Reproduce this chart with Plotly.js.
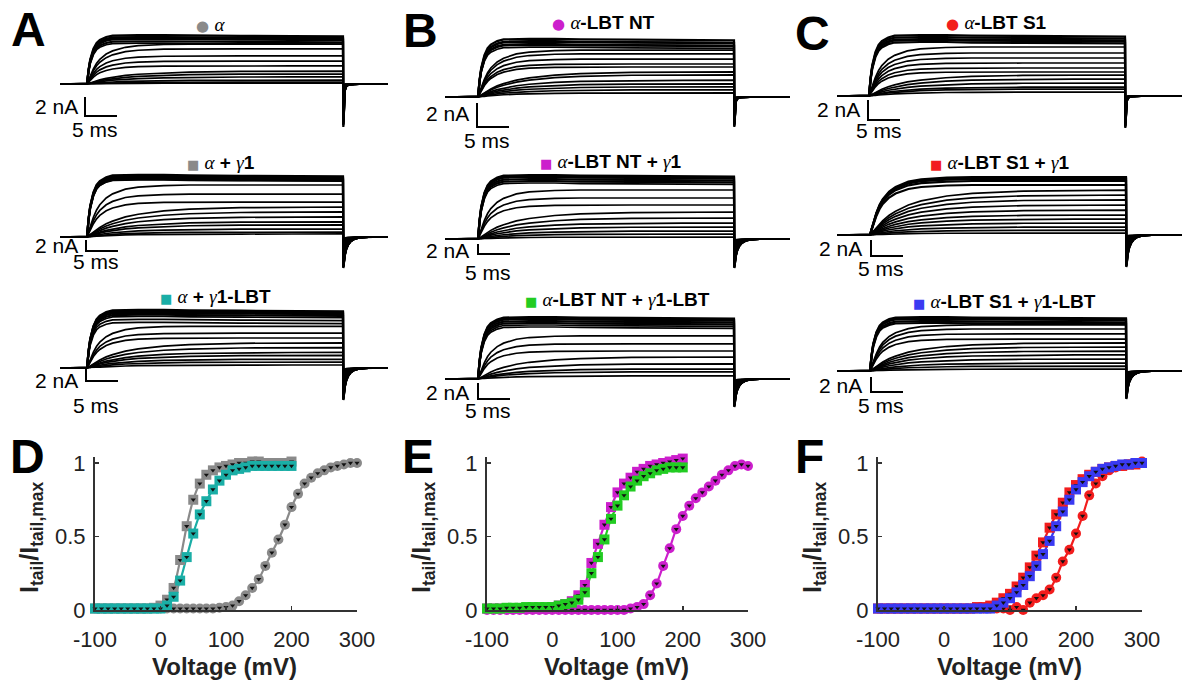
<!DOCTYPE html>
<html><head><meta charset="utf-8">
<script src="https://cdn.plot.ly/plotly-3.0.1.min.js"></script>
<style>html,body{margin:0;padding:0;background:#fff}#chart{width:1182px;height:683px}</style>
</head><body><div id="chart"></div><script>
// ---------------- DATA ----------------
// G-V voltages (mV)
const VOLT_FULL=[-100,-90,-80,-70,-60,-50,-40,-30,-20,-10,0,10,20,30,40,50,60,70,80,90,100,110,120,130,140,150,160,170,180,190,200,210,220,230,240,250,260,270,280,290,300];
const VOLT_HALF=[-100,-90,-80,-70,-60,-50,-40,-30,-20,-10,0,10,20,30,40,50,60,70,80,90,100,110,120,130,140,150,160,170,180,190,200];
const VOLT_TICKS=[-100,0,100,200,300];
const VOLT_TICKTEXT=['-100','0','100','200','300'];
// D
const GV_ALPHA=[0.01,0.01,0.01,0.01,0.01,0.01,0.01,0.01,0.01,0.01,0.01,0.01,0.01,0.01,0.01,0.01,0.01,0.01,0.01,0.015,0.02,0.03,0.06,0.10,0.15,0.21,0.30,0.39,0.48,0.58,0.70,0.79,0.86,0.90,0.93,0.95,0.97,0.98,0.99,1.0,1.0];
const GV_ALPHA_G1=[0.01,0.01,0.01,0.01,0.01,0.01,0.01,0.01,0.01,0.015,0.03,0.07,0.15,0.34,0.57,0.75,0.86,0.92,0.95,0.97,0.98,0.99,1.0,1.0,1.01,1.01,1.0,1.0,1.0,1.0,1.01];
const GV_ALPHA_G1LBT=[0.01,0.01,0.01,0.01,0.01,0.01,0.01,0.01,0.01,0.01,0.01,0.03,0.09,0.20,0.36,0.52,0.65,0.74,0.82,0.88,0.92,0.95,0.96,0.97,0.98,0.98,0.98,0.98,0.98,0.98,0.98];
// E
const GV_NT=[0.0,0.0,0.0,0.0,0.0,0.0,0.0,0.0,0.0,0.0,0.0,0.0,0.0,0.0,0.0,0.0,0.0,0.0,0.0,0.0,0.0,0.0,0.01,0.02,0.04,0.10,0.18,0.30,0.42,0.55,0.64,0.71,0.76,0.80,0.84,0.88,0.92,0.95,0.98,0.99,0.98];
const GV_NT_G1=[0.01,0.01,0.01,0.01,0.01,0.01,0.01,0.01,0.01,0.01,0.02,0.03,0.04,0.06,0.10,0.17,0.32,0.45,0.58,0.70,0.80,0.86,0.90,0.94,0.96,0.98,0.99,1.0,1.01,1.02,1.03];
const GV_NT_G1LBT=[0.01,0.01,0.01,0.015,0.015,0.015,0.02,0.02,0.02,0.02,0.02,0.03,0.04,0.05,0.07,0.12,0.25,0.36,0.48,0.62,0.71,0.78,0.84,0.88,0.91,0.93,0.95,0.96,0.97,0.97,0.97];
// F
const GV_S1=[0.01,0.01,0.01,0.01,0.01,0.01,0.01,0.01,0.01,0.01,0.01,0.01,0.01,0.01,0.01,0.01,0.01,0.01,0.01,0.01,0.0,0.02,0.0,0.05,0.08,0.10,0.14,0.22,0.33,0.41,0.52,0.64,0.78,0.86,0.91,0.95,0.97,0.98,0.99,1.0,1.01];
const GV_S1_G1=[0.01,0.01,0.01,0.01,0.01,0.01,0.01,0.01,0.01,0.01,0.01,0.01,0.01,0.01,0.01,0.02,0.02,0.03,0.05,0.08,0.11,0.16,0.22,0.29,0.37,0.46,0.56,0.65,0.73,0.80,0.85,0.89,0.92,0.94,0.96,0.97,0.98,0.98,0.99,0.99,1.0];
const GV_S1_G1LBT=[0.01,0.01,0.01,0.01,0.01,0.01,0.01,0.01,0.01,0.01,0.01,0.01,0.01,0.01,0.01,0.01,0.01,0.01,0.03,0.05,0.08,0.12,0.17,0.23,0.30,0.38,0.47,0.57,0.67,0.75,0.82,0.87,0.91,0.94,0.96,0.97,0.98,0.99,0.99,1.0,1.0];

// Current traces: plateau amplitudes (nA) per trace, and kinetic class per trace
const AMP_A1=[5.15,4.95,4.85,4.75,4.5,4.3,4.2,3.7,2.95,2.4,1.9,1.35,1.05,0.75,0.4,0.2,0.1];
const KIN_A1='ffffffmmmmmssssss';
const AMP_B1=[4.85,4.65,4.6,4.4,4.35,4.15,3.9,3.6,3.15,2.75,2.5,2.1,1.85,1.4,1.1,0.85,0.6,0.35];
const KIN_B1='ffffffmmmmmsssssss';
const AMP_C1=[6.1,5.9,5.7,5.6,5.4,4.9,4.3,3.8,3.3,2.8,2.4,2.1,1.7,1.3,0.9,0.7,0.4];
const KIN_C1='fffffmmmmmmssssss';
const AMP_A2=[11.3,11.1,10.9,10.7,10.5,10.4,9.45,7.8,6.35,5.45,4.55,3.65,2.75,2.2,1.45,0.9,0.55];
const KIN_A2='ffffffmmmssssssss';
const AMP_A3=[9.7,9.55,9.4,9.2,8.9,8.6,8.1,7.6,6.95,5.8,5.0,4.2,3.4,2.6,2.1,1.45,1,0.5];
const KIN_A3='ffffffffmmmsssssss';
const AMP_B2=[12.8,12.6,12.4,12,11.6,11.2,9.8,8.2,6.8,5.4,4.2,3.2,2.4,1.6,1.0,0.4];
const KIN_B2='ffffffmmmsssssss';
const AMP_B3=[7.75,7.6,7.5,7.25,7,6.75,6.5,5.4,4.4,3.5,2.75,1.9,1.25,0.9,0.4];
const KIN_B3='fffffffmmmsssss';
const AMP_C2=[7.25,7.1,7,6.75,6.25,5.6,5,4.4,3.75,3.1,2.5,2,1.5,1,0.6,0.25];
const KIN_C2='mmmmmsssssssssss';
const AMP_C3=[7.2,7.05,6.95,6.65,6.4,6.15,5.6,4.95,4.25,3.75,3.2,2.65,2.15,1.6,1.05,0.65,0.25];
const KIN_C3='fffffmmmmssssssss';
// activation time course (fraction of plateau)
const ACT_T=[0,0.25,0.5,1,1.5,2,3,4,6,8,12,16,24,32,40];
const ACT_FAST=[0,0.3,0.5,0.72,0.84,0.9,0.96,0.99,1,1,1,0.99,0.985,0.98,0.975];
const ACT_MED=[0,0.1,0.2,0.38,0.52,0.62,0.75,0.83,0.92,0.96,0.99,1,1,1,1];
const ACT_SLOW=[0,0.04,0.08,0.17,0.25,0.32,0.44,0.53,0.67,0.76,0.87,0.93,0.98,0.995,1];
// tail current time course after pulse end (ms) and relative size
const TAIL_T=[0.05,0.15,0.3,0.5,0.8,1.2,1.8,2.5,4];
const TAIL_BRIEF=[1,0.4,0.15,0.06,0.02,0.01,0,0,0];
const TAIL_DECAY=[1,0.8,0.58,0.4,0.25,0.14,0.06,0.02,0];
const PULSE_MS=40, SCALE_NA=2, SCALE_MS=5;

// ---------------- LAYOUT GEOMETRY ----------------
const W=1182,H=683,PXMS=6.4;
const FONT='Liberation Sans, Arial, sans-serif';
const PANELS=[
 {amps:AMP_A1,kin:KIN_A1,t0x:87, base:84, pxna:9.5,x0:60, x1:388, tail:43,tshape:'b',sb:{x:85, y1:116},t2:{x:80, y:106},t5:{x:95, y:129}},
 {amps:AMP_B1,kin:KIN_B1,t0x:478,base:97, pxna:12, x0:445,x1:790, tail:30,tshape:'b',sb:{x:477,y1:127},t2:{x:471,y:113},t5:{x:487,y:140}},
 {amps:AMP_C1,kin:KIN_C1,t0x:869,base:96, pxna:10, x0:837,x1:1182,tail:32,tshape:'b',sb:{x:868,y1:120},t2:{x:862,y:109},t5:{x:879,y:130}},
 {amps:AMP_A2,kin:KIN_A2,t0x:87, base:237,pxna:5.5,x0:60, x1:388, tail:31,tshape:'d',sb:{x:86, y1:251},t2:{x:80, y:245},t5:{x:96, y:262}},
 {amps:AMP_A3,kin:KIN_A3,t0x:87, base:368,pxna:6,  x0:60, x1:388, tail:32,tshape:'d',sb:{x:86, y1:381},t2:{x:80, y:380},t5:{x:96, y:405}},
 {amps:AMP_B2,kin:KIN_B2,t0x:478,base:239,pxna:5,  x0:445,x1:790, tail:29,tshape:'d',sb:{x:478,y1:254},t2:{x:471,y:250},t5:{x:488,y:272}},
 {amps:AMP_B3,kin:KIN_B3,t0x:478,base:379,pxna:8,  x0:445,x1:790, tail:28,tshape:'d',sb:{x:478,y1:399},t2:{x:471,y:392},t5:{x:488,y:410}},
 {amps:AMP_C2,kin:KIN_C2,t0x:870,base:235,pxna:8,  x0:837,x1:1182,tail:32,tshape:'d',sb:{x:871,y1:256},t2:{x:864,y:249},t5:{x:881,y:268}},
 {amps:AMP_C3,kin:KIN_C3,t0x:870,base:371,pxna:7.5,x0:837,x1:1182,tail:28,tshape:'d',sb:{x:871,y1:392},t2:{x:864,y:385},t5:{x:881,y:405}}
];
const fx=px=>px/W, fy=py=>1-py/H;
const data=[]; const layout={width:W,height:H,margin:{l:0,r:0,t:0,b:0},showlegend:false,
  paper_bgcolor:'#fff',plot_bgcolor:'rgba(0,0,0,0)',font:{family:FONT,color:'#000'},annotations:[]};
const ann=(x,y,text,o)=>layout.annotations.push(Object.assign({xref:'paper',yref:'paper',x:fx(x),y:fy(y),text,showarrow:false,xanchor:'center',yanchor:'middle',font:{family:FONT,size:21,color:'#000'}},o||{}));

PANELS.forEach((p,i)=>{
  const k=i+1, xs='x'+k, ys='y'+k;
  const tmin=(p.x0-p.t0x)/PXMS, tmax=(p.x1-p.t0x)/PXMS;
  const yt=p.base-72, yb=p.base+48;
  layout['xaxis'+k]={domain:[fx(p.x0),fx(p.x1)],range:[tmin,tmax],visible:false,fixedrange:true,anchor:ys};
  layout['yaxis'+k]={domain:[fy(yb),fy(yt)],range:[(p.base-yb)/p.pxna,(p.base-yt)/p.pxna],visible:false,fixedrange:true,anchor:xs};
  const maxA=Math.max(...p.amps), tailNA=p.tail/p.pxna;
  const tail=p.tshape==='b'?TAIL_BRIEF:TAIL_DECAY;
  p.amps.forEach((a,j)=>{
    const c=p.kin[j]; const sh=c==='f'?ACT_FAST:(c==='m'?ACT_MED:ACT_SLOW);
    const x=[tmin].concat(ACT_T,TAIL_T.map(t=>PULSE_MS+t),[tmax]);
    const y=[0].concat(sh.map(f=>a*f),tail.map(f=>-tailNA*(a/maxA)*f),[0]);
    data.push({type:'scatter',mode:'lines',x,y,xaxis:xs,yaxis:ys,line:{color:'#000',width:j<5?2.2:1.7},hoverinfo:'skip',cliponaxis:false});
  });
  // scale bar 2 nA / 5 ms
  const tc=(p.sb.x-p.t0x)/PXMS, ic=(p.base-p.sb.y1)/p.pxna;
  data.push({type:'scatter',mode:'lines',x:[tc,tc,tc+SCALE_MS],y:[ic+SCALE_NA,ic,ic],xaxis:xs,yaxis:ys,line:{color:'#000',width:2},hoverinfo:'skip',cliponaxis:false});
  ann(p.t2.x,p.t2.y,SCALE_NA+' nA',{xanchor:'right'});
  ann(p.t5.x,p.t5.y,SCALE_MS+' ms');
});

// G-V panels
const GV=[
 {x0:95, x1:357, series:[
   {v:VOLT_FULL,g:GV_ALPHA,c:'#8a8a8a',s:'circle'},
   {v:VOLT_HALF,g:GV_ALPHA_G1,c:'#8a8a8a',s:'square'},
   {v:VOLT_HALF,g:GV_ALPHA_G1LBT,c:'#1aaea6',s:'square'}]},
 {x0:487,x1:748, series:[
   {v:VOLT_FULL,g:GV_NT,c:'#cc1fcc',s:'circle'},
   {v:VOLT_HALF,g:GV_NT_G1,c:'#cc1fcc',s:'square'},
   {v:VOLT_HALF,g:GV_NT_G1LBT,c:'#22cc22',s:'square'}]},
 {x0:878,x1:1142,series:[
   {v:VOLT_FULL,g:GV_S1,c:'#f21d1d',s:'circle'},
   {v:VOLT_FULL,g:GV_S1_G1,c:'#f21d1d',s:'square'},
   {v:VOLT_FULL,g:GV_S1_G1LBT,c:'#3a3af2',s:'square'}]}
];
const Y0PX=610, Y1PX=463; // pixel rows of 0 and 1
GV.forEach((p,i)=>{
  const k=10+i, xs='x'+k, ys='y'+k;
  const ytop=Y0PX-(Y0PX-Y1PX)*1.04;
  layout['xaxis'+k]={domain:[fx(p.x0),fx(p.x1)],range:[-100,300],anchor:ys,showgrid:false,zeroline:false,
    showline:true,linecolor:'#333',linewidth:2,ticks:'inside',ticklen:4,tickcolor:'#333',tickwidth:1.5,
    tickvals:VOLT_TICKS,ticktext:VOLT_TICKTEXT,ticklabelstandoff:9,tickfont:{family:FONT,size:22,color:'#222'},fixedrange:true};
  layout['yaxis'+k]={domain:[fy(Y0PX),fy(ytop)],range:[0,1.04],anchor:xs,showgrid:false,zeroline:false,
    showline:true,linecolor:'#333',linewidth:2,ticks:'inside',ticklen:4,tickcolor:'#333',tickwidth:1.5,
    tickvals:[0,0.5,1],ticktext:['0','0.5','1'],ticklabelstandoff:3,tickfont:{family:FONT,size:22,color:'#222'},fixedrange:true};
  p.series.forEach(s=>{
    data.push({type:'scatter',mode:'lines',x:s.v,y:s.g,xaxis:xs,yaxis:ys,line:{color:s.c,width:2.2,shape:'spline',smoothing:0.8},hoverinfo:'skip',cliponaxis:false});
  });
  p.series.forEach(s=>{
    data.push({type:'scatter',mode:'markers',x:s.v,y:s.g,xaxis:xs,yaxis:ys,marker:{color:s.c,size:10,symbol:s.s,line:{width:0}},hoverinfo:'skip',cliponaxis:false});
    data.push({type:'scatter',mode:'markers',x:s.v,y:s.g,xaxis:xs,yaxis:ys,marker:{color:'#111',size:4.5,symbol:'triangle-down',line:{width:0}},hoverinfo:'skip',cliponaxis:false});
  });
  const cx=(p.x0+p.x1)/2;
  ann(cx-1,666,'<b>Voltage (mV)</b>',{font:{family:FONT,size:24,color:'#222'}});
  ann(p.x0-64,537,'<b>I<sub>tail</sub>/I<sub>tail,max</sub></b>',{textangle:-90,font:{family:FONT,size:25,color:'#222'}});
});

// panel letters
[['A',28,29],['B',420,31],['C',812,33],['D',27,456],['E',418,456],['F',810,456]].forEach(l=>ann(l[1],l[2],'<b>'+l[0]+'</b>',{font:{family:FONT,size:48,color:'#000'}}));

// condition labels
const GR=t=>'<span style="font-family:Liberation Serif, serif"><i>'+t+'</i></span>';
const DOT=c=>'<span style="color:'+c+';font-family:DejaVu Sans;font-size:15px">●</span> ';
const SQ=c=>'<span style="color:'+c+';font-family:DejaVu Sans;font-size:13px">■</span> ';
const LF={family:FONT,size:19,color:'#000'};
ann(210,24,DOT('#8a8a8a')+GR('α'),{font:LF});
ann(221,162,SQ('#8a8a8a')+GR('α')+' <b>+</b> '+GR('γ')+'<b>1</b>',{font:LF});
ann(215,297,SQ('#1aaea6')+GR('α')+' <b>+</b> '+GR('γ')+'<b>1-LBT</b>',{font:LF});
ann(603,23,DOT('#cc1fcc')+GR('α')+'<b>-LBT NT</b>',{font:LF});
ann(611,161,SQ('#cc1fcc')+GR('α')+'<b>-LBT NT + </b>'+GR('γ')+'<b>1</b>',{font:LF});
ann(617,299,SQ('#22cc22')+GR('α')+'<b>-LBT NT + </b>'+GR('γ')+'<b>1-LBT</b>',{font:LF});
ann(996,23,DOT('#f21d1d')+GR('α')+'<b>-LBT S1</b>',{font:LF});
ann(1000,162,SQ('#f21d1d')+GR('α')+'<b>-LBT S1 + </b>'+GR('γ')+'<b>1</b>',{font:LF});
ann(1004,301,SQ('#3a3af2')+GR('α')+'<b>-LBT S1 + </b>'+GR('γ')+'<b>1-LBT</b>',{font:LF});

Plotly.newPlot('chart',data,layout,{staticPlot:true,displayModeBar:false});
</script></body></html>
